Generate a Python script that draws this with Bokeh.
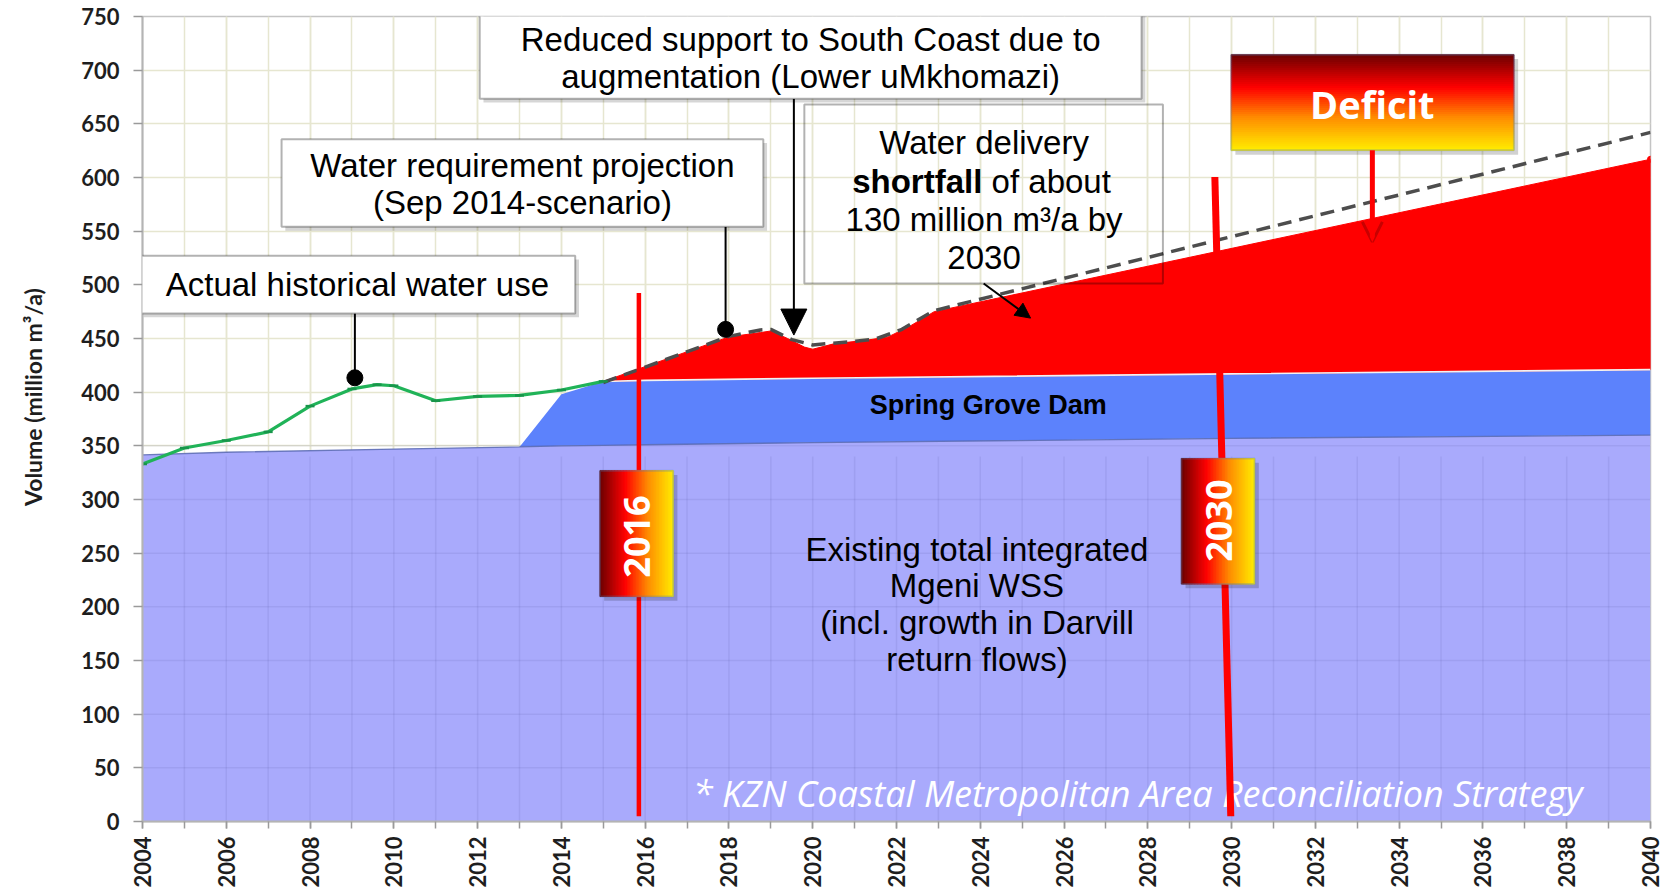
import math
from bokeh.plotting import figure
from bokeh.models import (Range1d, SingleIntervalTicker, BoxAnnotation, Label,
                          Arrow, NormalHead, OpenHead)
from bokeh.core.properties import value
from bokeh.embed import file_html
from bokeh.resources import INLINE

# ---------------- data ----------------
hist_years = [2004, 2005, 2006, 2007, 2008, 2009, 2009.6, 2010, 2011, 2012, 2013, 2014, 2015]
hist_use = [333, 348, 355, 363, 387, 403, 407, 406, 392, 396, 397, 402, 410]

supply_years = [2004, 2006, 2010, 2013, 2014, 2015, 2016, 2020, 2030, 2040]
existing_supply = [341.5, 344, 347, 349, 350, 350.5, 351, 353, 357, 360]
spring_grove_supply = [341.5, 344, 347, 349, 398, 410, 411, 413, 417, 421]

deficit_years = [2015, 2018, 2018.75, 2019.0, 2019.4, 2019.8, 2020.0, 2020.5, 2021.3, 2021.8, 2022.3, 2022.9, 2040]
deficit_top = [410, 451.5, 455.5, 457, 450, 442, 440, 445, 448.5, 451.5, 461, 475, 617]

proj_years = [2015, 2018, 2018.75, 2019.0, 2019.5, 2020.0, 2020.9, 2021.5, 2022.1, 2022.9, 2040]
proj_req = [409, 452, 458, 458.5, 449, 444, 447, 449.5, 458, 476, 642]

marker_labels = ["2016", "2030"]

# ---------------- figure ----------------
GRID = "#e6e6d0"
p = figure(width=1669, height=890, output_backend="svg", toolbar_location=None,
           x_range=Range1d(2004, 2040), y_range=Range1d(0, 750),
           min_border_left=142, min_border_right=19, min_border_top=16, min_border_bottom=68)
p.background_fill_color = "white"
p.border_fill_color = "white"
p.outline_line_color = "#c4c4c4"
p.outline_line_width = 1.5

p.xaxis.ticker = SingleIntervalTicker(interval=2, num_minor_ticks=2)
p.yaxis.ticker = SingleIntervalTicker(interval=50, num_minor_ticks=0)
p.xgrid.grid_line_color = GRID
p.xgrid.minor_grid_line_color = GRID
p.ygrid.grid_line_color = GRID
p.xgrid.grid_line_width = 1.5
p.xgrid.minor_grid_line_width = 1.5
p.ygrid.grid_line_width = 1.5

for ax in (p.xaxis, p.yaxis):
    ax.axis_line_color = "#b4b4b4"
    ax.axis_line_width = 2
    ax.major_tick_line_color = "#9a9a9a"
    ax.minor_tick_line_color = "#9a9a9a"
    ax.major_tick_line_width = 1.5
    ax.minor_tick_line_width = 1.5
    ax.major_tick_in = 0
    ax.minor_tick_in = 0
    ax.major_label_text_font = "Lato"
    ax.major_label_text_font_style = "bold"
    ax.major_label_text_font_size = "22px"
    ax.major_label_text_color = "#1e1e1e"
p.xaxis.major_tick_out = 7
p.xaxis.minor_tick_out = 7
p.xaxis.major_label_orientation = math.pi / 2
p.xaxis.major_label_standoff = 8
p.yaxis.major_tick_out = 9
p.yaxis.minor_tick_out = 0
p.yaxis.major_label_standoff = 14

# y axis title (leading no-break spaces lift it a little above the frame centre)
p.yaxis.axis_label = "\u00a0" * 8 + "Volume (million m³/a)"
p.yaxis.axis_label_text_font = "Lato"
p.yaxis.axis_label_text_font_style = "bold"
p.yaxis.axis_label_text_font_size = "23px"
p.yaxis.axis_label_text_color = "#1e1e1e"
p.yaxis.axis_label_standoff = 31

# ---------------- areas ----------------
p.varea(x=supply_years, y1=0, y2=existing_supply, fill_color="#a9aafc")
p.varea(x=supply_years, y1=existing_supply, y2=spring_grove_supply, fill_color="#5c82fc")

# faint grid showing through the supply areas
gx = list(range(2005, 2040))
p.segment(x0=gx, y0=[0] * len(gx), x1=gx, y1=[340] * len(gx),
          line_color="#50509a", line_alpha=0.12, line_width=1.5)
gy = list(range(50, 351, 50))
p.segment(x0=[2004] * len(gy), y0=gy, x1=[2040] * len(gy), y1=gy,
          line_color="#50509a", line_alpha=0.12, line_width=1.5)

sg_x = [x for x in supply_years if x >= deficit_years[0]]
sg_y = [y for x, y in zip(supply_years, spring_grove_supply) if x >= deficit_years[0]]
p.patch(x=deficit_years + sg_x[::-1], y=deficit_top + sg_y[::-1],
        fill_color="#ff0000", line_color="#ff0000", line_width=1)

p.line(supply_years, existing_supply, line_color="#5868b0", line_width=1.3, line_alpha=0.85)
p.line(sg_x, sg_y, line_color="#f2f2f2", line_width=1.6)

p.scatter([deficit_years[-1]], [deficit_top[-1]], size=6, color="#ff0000")

# projection (dashed) and history (green)
p.line(proj_years, proj_req, line_color="#4d4d4d", line_width=3.5, line_dash="14 8")
p.line(hist_years, hist_use, line_color="#20b358", line_width=3.2)
p.scatter(hist_years, hist_use, marker="dash", size=9, line_width=2.5, color="#18954a")

# footnote (under the red 2030 line)
p.text(x=[2027.76], y=[26], text=["* KZN Coastal Metropolitan Area Reconciliation Strategy"],
       text_font=value("Open Sans"), text_font_style="italic", text_font_size="36px",
       text_color="white", text_align="center", text_baseline="middle")

# ---------------- red year lines ----------------
p.segment(x0=[2015.85], y0=[4.9], x1=[2015.85], y1=[492.5], line_color="#ff0000", line_width=4.5)
p.segment(x0=[2029.98], y0=[4.9], x1=[2029.60], y1=[600.5], line_color="#ff0000", line_width=7)

# ---------------- gradient boxes ----------------
STOPS = [(0.0, (105, 0, 0)), (0.35, (255, 0, 0)), (0.66, (255, 140, 0)), (1.0, (255, 236, 0))]


def grad(t):
    for (t0, c0), (t1, c1) in zip(STOPS[:-1], STOPS[1:]):
        if t <= t1:
            f = (t - t0) / (t1 - t0)
            return "#%02x%02x%02x" % tuple(int(round(a + (b - a) * f)) for a, b in zip(c0, c1))
    return "#%02x%02x%02x" % STOPS[-1][1]


def gradient_box(left, right, bottom, top, vertical, n=48):
    ls, rs, bs, ts, cs = [], [], [], [], []
    for i in range(n):
        t = (i + 0.5) / n
        if vertical:
            ls.append(left); rs.append(right)
            ts.append(top - (top - bottom) * i / n)
            bs.append(top - (top - bottom) * (i + 1) / n)
        else:
            bs.append(bottom); ts.append(top)
            ls.append(left + (right - left) * i / n)
            rs.append(left + (right - left) * (i + 1) / n)
        cs.append(grad(t))
    # soft shadow
    p.quad(left=[left + 0.1], right=[right + 0.1], bottom=[bottom - 4], top=[top - 4],
           fill_color="#000000", fill_alpha=0.18, line_color=None)
    p.quad(left=ls, right=rs, bottom=bs, top=ts, fill_color=cs, line_color=cs, line_width=1)
    p.add_layout(BoxAnnotation(left=left, right=right, bottom=bottom, top=top,
                               fill_alpha=0, line_color="#4a7ebb", line_width=2))


gradient_box(2029.99, 2036.74, 625.3, 714.4, True)
gradient_box(2014.92, 2016.67, 209.6, 326.9, False)
gradient_box(2028.80, 2030.55, 221.2, 338.2, False)

# ---------------- leader lines & dots ----------------
p.segment(x0=[2009.07, 2017.92], y0=[473.4, 554.0], x1=[2009.07, 2017.92], y1=[413.4, 458.5],
          line_color="black", line_width=2)
p.scatter([2009.07, 2017.92], [413.4, 458.5], size=16, color="black")

# ---------------- text boxes ----------------
BOXFONT = "Liberation Sans"


def text_box(left, right, bottom, top, fill=True):
    if fill:
        p.add_layout(BoxAnnotation(left=left + 0.09, right=right + 0.09, bottom=bottom - 3.5,
                                   top=top - 3.5, fill_color="#000000", fill_alpha=0.16,
                                   line_color=None))
    p.add_layout(BoxAnnotation(left=left, right=right, bottom=bottom, top=top,
                               fill_color="white", fill_alpha=1.0 if fill else 0.0,
                               line_color="black", line_width=2))


def lab(x, y, text, size="33px", font=BOXFONT, style="normal", color="black",
        align="center", lh=1.2, angle=0):
    p.add_layout(Label(x=x, y=y, text=text, text_font=font, text_font_size=size,
                       text_font_style=style, text_color=color, text_align=align,
                       text_baseline="middle", text_line_height=lh, angle=angle))


text_box(2003.94, 2014.33, 473.4, 527.0)
lab(2009.13, 500.2, "Actual historical water use")

text_box(2007.32, 2018.82, 554.0, 635.6)
lab(2013.07, 593.6, "Water requirement projection\n(Sep 2014-scenario)", lh=1.0)

p.add_layout(Arrow(x_start=2019.55, y_start=673.4, x_end=2019.55, y_end=453.2,
                   line_color="black", line_width=2,
                   end=NormalHead(size=26, fill_color="black", line_color="black")))

text_box(2012.05, 2027.85, 673.4, 754.0)
lab(2019.95, 710.9, "Reduced support to South Coast due to\naugmentation (Lower uMkhomazi)", lh=1.0)

text_box(2019.80, 2028.36, 501.3, 668.1, fill=False)
lab(2024.09, 633.0, "Water delivery")
lab(2024.05, 596.0, "shortfall", style="bold", align="right")
lab(2024.27, 596.0, "of about", align="left")
lab(2024.09, 560.7, "130 million m³/a by")
lab(2024.09, 525.3, "2030")
p.add_layout(Arrow(x_start=2024.08, y_start=501.3, x_end=2025.20, y_end=469.0,
                   line_color="black", line_width=2,
                   end=NormalHead(size=15, fill_color="black", line_color="black")))

# deficit box text + arrow
lab(2033.36, 668.8, "Deficit", size="38px", font="Open Sans", style="bold", color="white")
p.add_layout(Arrow(x_start=2033.36, y_start=625.3, x_end=2033.36, y_end=540,
                   line_color="#ff0000", line_width=5,
                   end=OpenHead(size=20, line_color="#c80000", line_width=3)))

lab(2015.81, 265.5, marker_labels[0], size="36px", font="Open Sans", style="bold",
    color="white", angle=math.pi / 2)
lab(2029.70, 280.3, marker_labels[1], size="36px", font="Open Sans", style="bold",
    color="white", angle=math.pi / 2)

# in-area labels
lab(2024.19, 388, "Spring Grove Dam", size="27px", style="bold")
lab(2023.92, 202.3, "Existing total integrated\nMgeni WSS\n(incl. growth in Darvill\nreturn flows)", lh=0.995)

open("out.html", "w").write(file_html(p, INLINE))
